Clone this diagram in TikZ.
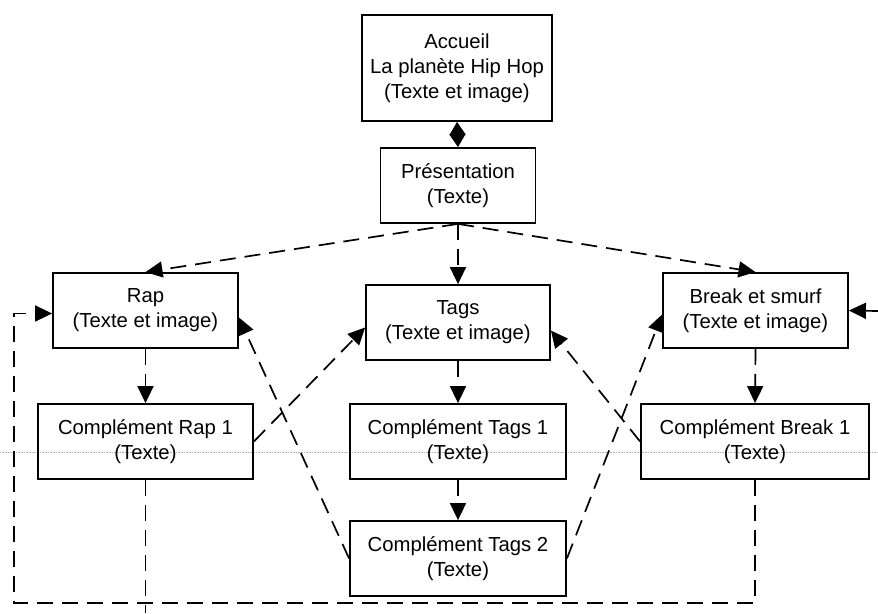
\documentclass[tikz,border=0pt]{standalone}
\usepackage{fontspec}
\setmainfont{Liberation Sans}
\usepackage{tikz}
\usetikzlibrary{arrows.meta,calc}
\tikzset{
  page/.style={rectangle, draw=black, line width=1.8pt, inner sep=0pt,
               minimum height=75pt, align=center,
               font=\fontsize{20.3}{25}\selectfont},
  nav/.style={-{Triangle[length=17pt,width=16pt]}, line width=1.7pt,
              dash pattern=on 16pt off 9pt},
  backline/.style={line width=1.7pt, dash pattern=on 16pt off 9pt},
  home/.style={{Triangle[length=13pt,width=16pt]}-{Triangle[length=13pt,width=16pt]},
               line width=1.7pt},
}

\begin{document}
\begin{tikzpicture}[x=1pt,y=-1pt]
\useasboundingbox (0,0) rectangle (878,613);

%% Column x-positions
\def\xL{145.5}   % Rap
\def\xM{458}     % Tags
\def\xR{755.5}   % Break et smurf

%% scan line across the page
\draw[gray!60, densely dotted, line width=0.6pt] (0,452) -- (878,452);

%% Top of the site
\node[page, minimum width=190pt, minimum height=106pt] (acc) at (457,68)
     {Accueil\\La planète Hip Hop\\(Texte et image)};
\node[page, minimum width=155pt] (pres) at (\xM,185.5) {Présentation\\(Texte)};

%% Section pages
\node[page, minimum width=185pt] (rap)  at (\xL,310.5) {Rap\\(Texte et image)};
\node[page, minimum width=184pt] (tags) at (\xM,322.5) {Tags\\(Texte et image)};
\node[page, minimum width=185pt] (brk)  at (\xR,310.5) {Break et smurf\\(Texte et image)};

%% Complement pages
\node[page, minimum width=215pt] (cr1) at (\xL,441.5) {Complément Rap 1\\(Texte)};
\node[page, minimum width=216pt] (ct1) at (\xM,441.5) {Complément Tags 1\\(Texte)};
\node[page, minimum width=216pt] (ct2) at (\xM,558.5) {Complément Tags 2\\(Texte)};
\node[page, minimum width=228pt] (cb1) at (755,441.5) {Complément Break 1\\(Texte)};

%% Free ends of the outer links
\coordinate (lowleft) at (14,603);
\coordinate (rapout)  at (\xL,613);
\coordinate (brkin)   at (878,311);

%% Home <-> Presentation
\draw[home] (acc.south) -- (pres.north);

%% Presentation to sections
\draw[nav] (pres.south) -- (rap.north);
\draw[nav] (pres.south) -- (tags.north);
\draw[nav] (pres.south) -- (brk.north);

%% Sections to complements
\draw[nav] (rap.south) -- (cr1.north);
\draw[nav] (tags.south) -- (ct1.north);
\draw[nav] (ct1.south) -- (ct2.north);
\draw[nav] (brk.south) -- (cb1.north);

%% Cross links between complements and sections
\draw[nav] (cr1.east) -- ([yshift=-5pt]tags.west);
\draw[nav] (ct2.west) -- ([yshift=-7pt]rap.east);
\draw[nav] (ct2.east) -- ([yshift=-4pt]brk.west);
\draw[nav] (cb1.west) -- ([yshift=-8pt]tags.east);

%% Outer links
\draw[nav] (cb1.south) |- (lowleft) |- ([yshift=-3pt]rap.west);
\draw[backline] (cr1.south) -- (rapout);
\draw[nav] (brkin) -- (brk.east);

\end{tikzpicture}
\end{document}
